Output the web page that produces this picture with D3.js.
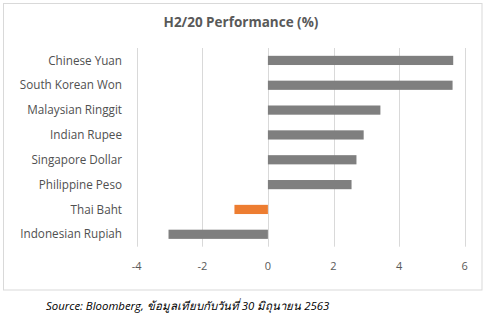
<!DOCTYPE html>
<html><head><meta charset="utf-8">
<script src="https://cdn.jsdelivr.net/npm/d3@7"></script>
<style>
body{margin:0;background:#fff;}
svg{display:block;}
</style></head>
<body><svg id="c" width="487" height="327"></svg>
<script>
const categories = ["Chinese Yuan","South Korean Won","Malaysian Ringgit","Indian Rupee","Singapore Dollar","Philippine Peso","Thai Baht","Indonesian Rupiah"];
const values = [5.65, 5.63, 3.43, 2.92, 2.70, 2.55, -1.02, -3.03];
const highlight = ["Thai Baht"];
const xTicks = [-4,-2,0,2,4,6];
const title = "H2/20 Performance (%)";
const source = "Source: Bloomberg, ข้อมูลเทียบกับวันที่ 30 มิถุนายน 2563";

const svg = d3.select("#c");
const font = "'Open Sans', 'Noto Sans', sans-serif";

svg.append("rect").attr("x",3.5).attr("y",3.5).attr("width",478.5).attr("height",286.5)
  .attr("fill","#fff").attr("stroke","#d9d9d9").attr("stroke-width",1);

const x = d3.scaleLinear().domain([-4,6]).range([136.7,464.7]);
const y = d3.scaleBand().domain(categories).range([48,246.7]).paddingInner(0.63).paddingOuter(0.315);

// gridlines
svg.append("g").selectAll("line").data(xTicks).join("line")
  .attr("x1",d=>Math.round(x(d))+0.5).attr("x2",d=>Math.round(x(d))+0.5)
  .attr("y1",48).attr("y2",246.7).attr("stroke","#d9d9d9").attr("stroke-width",1);

// bars
svg.append("g").selectAll("rect").data(categories).join("rect")
  .attr("x",(d,i)=>x(Math.min(0,values[i])))
  .attr("width",(d,i)=>Math.abs(x(values[i])-x(0)))
  .attr("y",d=>y(d)).attr("height",y.bandwidth())
  .attr("fill",d=>highlight.includes(d)?"#ed7d31":"#7f7f7f");

// category labels
svg.append("g").selectAll("text").data(categories).join("text")
  .attr("x",122).attr("y",d=>y(d)+y.bandwidth()/2).attr("dy","0.35em")
  .attr("text-anchor","end").attr("font-family",font).attr("font-size",11.7)
  .attr("fill","#505050").text(d=>d);

// x tick labels
svg.append("g").selectAll("text").data(xTicks).join("text")
  .attr("x",d=>x(d)).attr("y",266).attr("dy","0.35em")
  .attr("text-anchor","middle").attr("font-family",font).attr("font-size",11)
  .attr("fill","#595959").text(d=>d);

svg.append("text").attr("x",241).attr("y",27).attr("text-anchor","middle")
  .attr("font-family",font).attr("font-size",13.5).attr("font-weight","bold")
  .attr("fill","#595959").text(title);

svg.append("text").attr("x",46).attr("y",310).attr("font-family",font)
  .attr("font-size",11.4).attr("font-style","italic").attr("fill","#000").text(source);
</script></body></html>
